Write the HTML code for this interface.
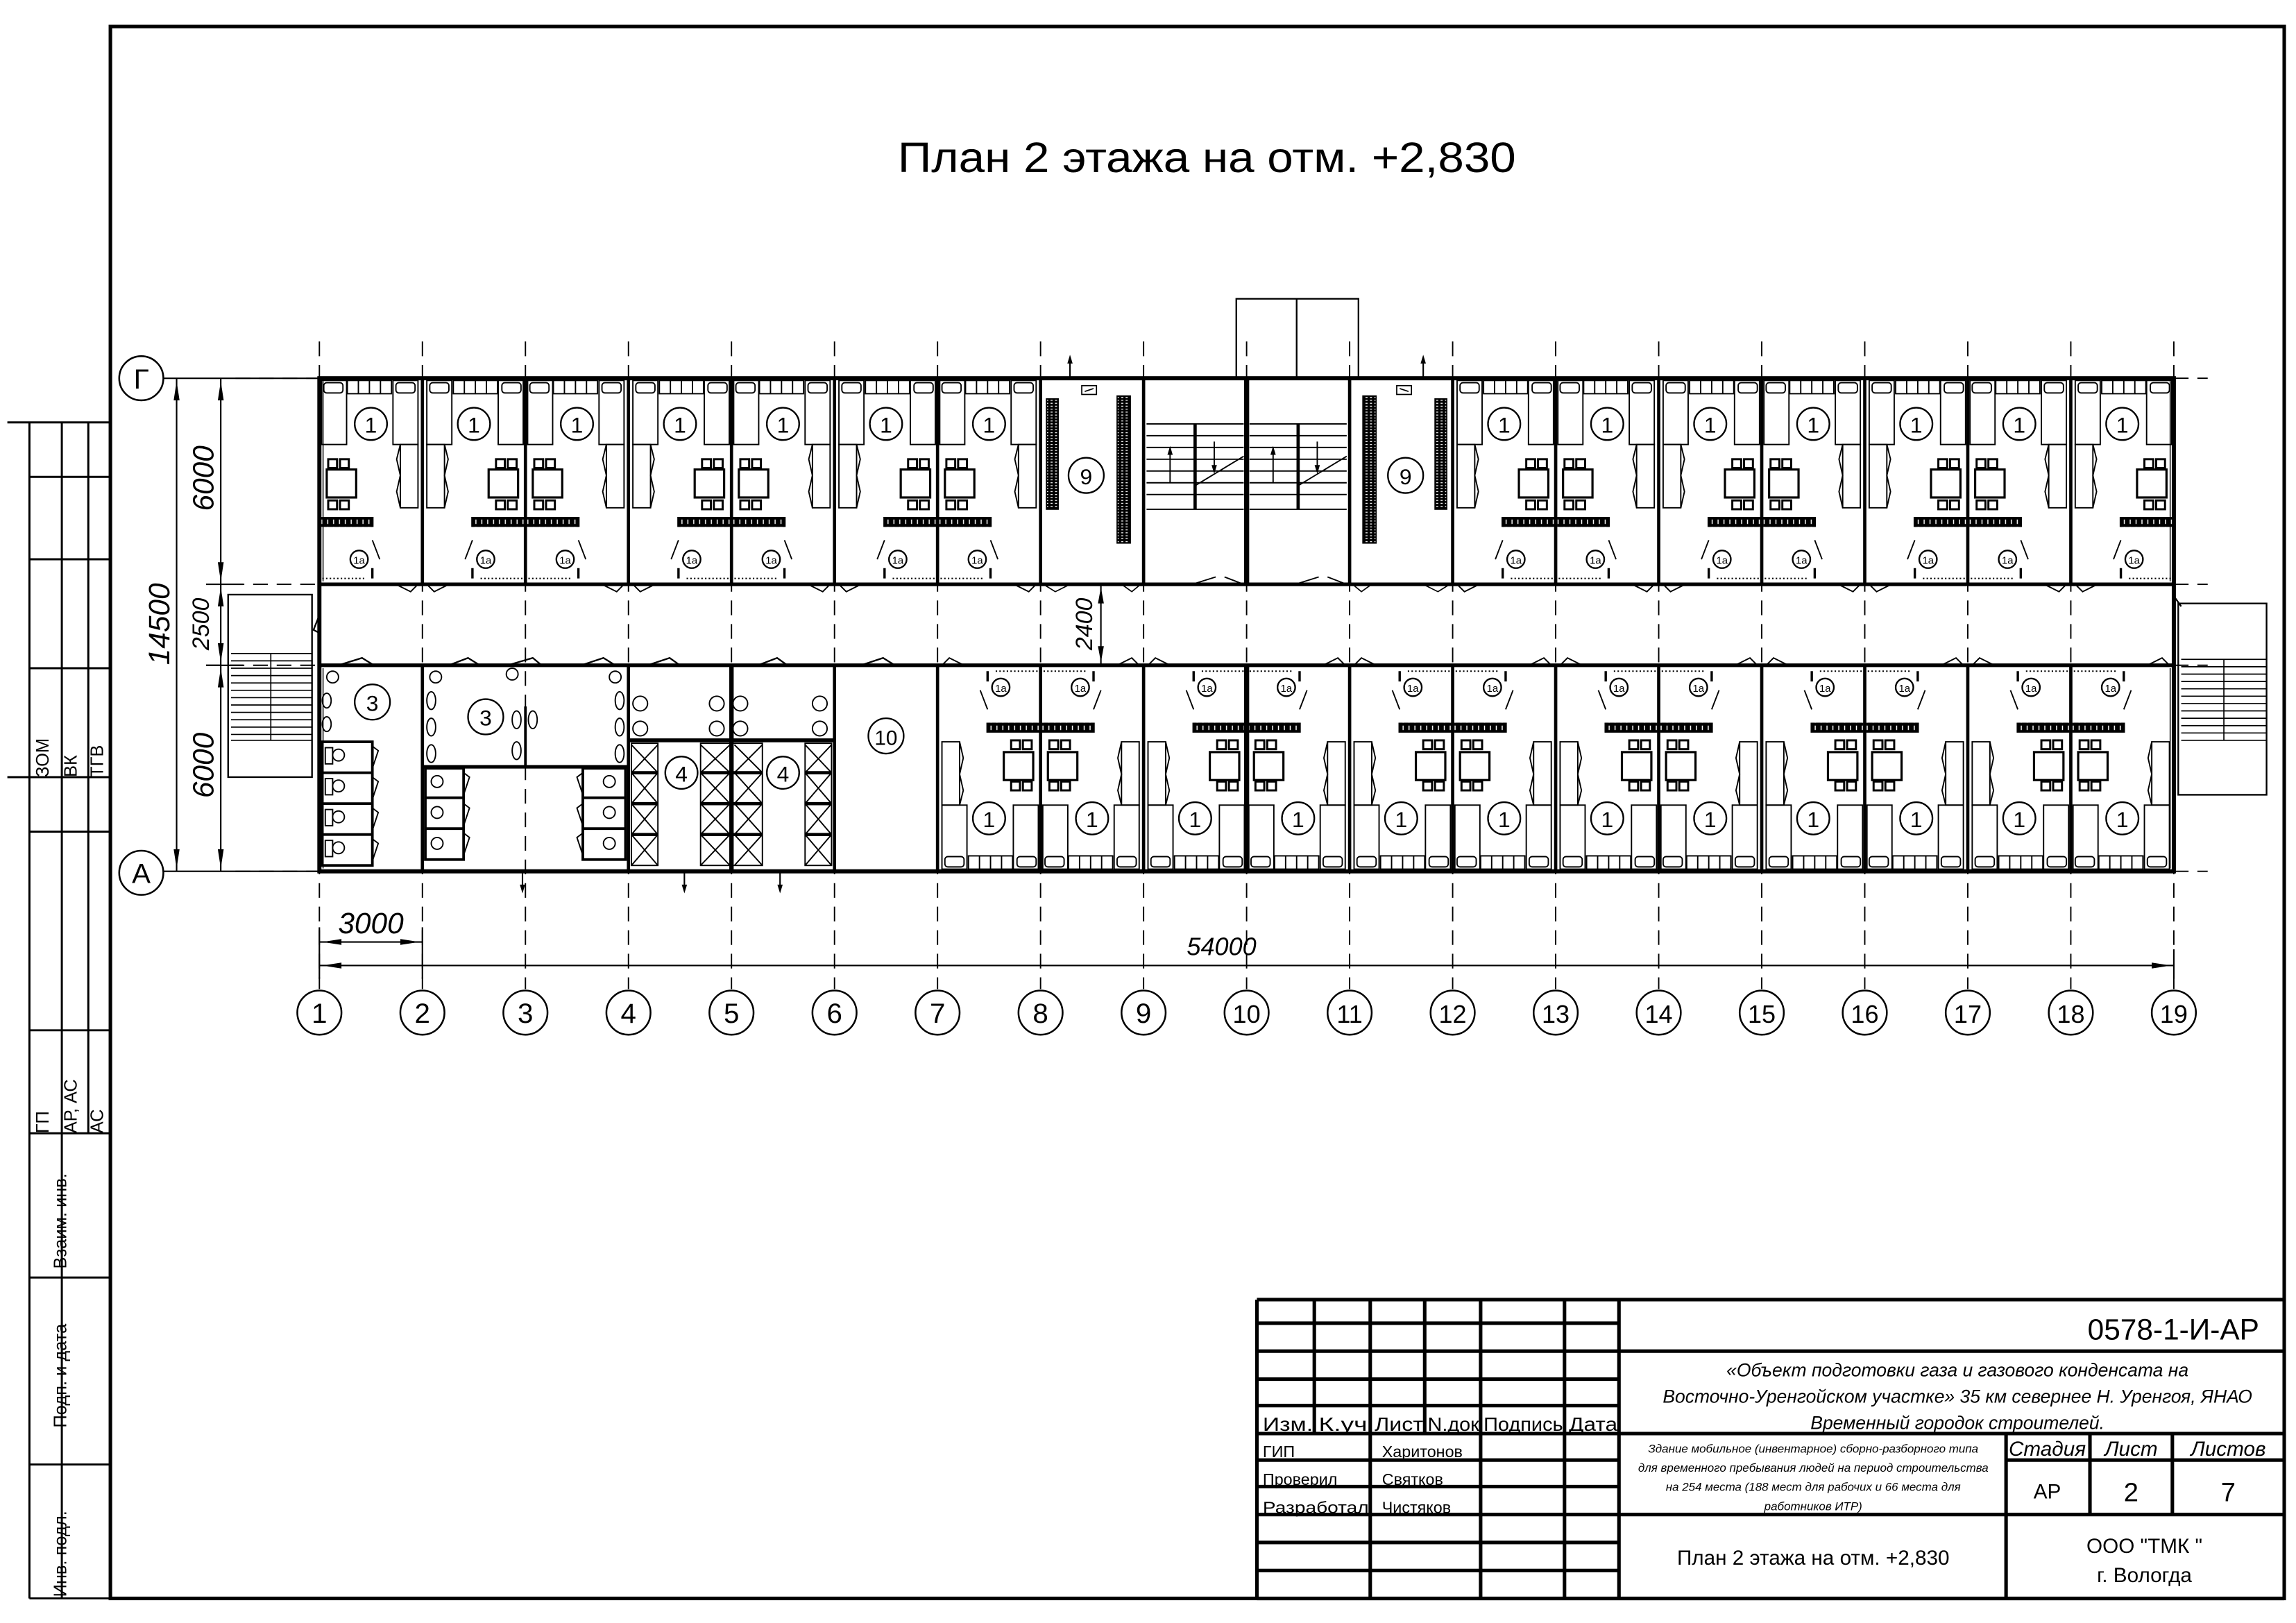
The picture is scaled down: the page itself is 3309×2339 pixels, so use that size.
<!DOCTYPE html>
<html><head><meta charset="utf-8"><style>
html,body{margin:0;padding:0;background:#fff}
svg{display:block}
text{font-family:"Liberation Sans Narrow","Liberation Sans","DejaVu Sans",sans-serif;fill:#000}
</style></head><body>
<svg width="3309" height="2339" viewBox="0 0 1560 1102.7" preserveAspectRatio="none" xmlns="http://www.w3.org/2000/svg" xmlns:xlink="http://www.w3.org/1999/xlink">
<defs>
<pattern id="rk" width="3" height="2" patternUnits="userSpaceOnUse"><rect width="3" height="2" fill="#000"/><rect x="0.8" y="0.7" width="1.4" height="0.6" fill="#fff"/></pattern>
<pattern id="st" width="4" height="5" patternUnits="userSpaceOnUse"><rect width="4" height="5" fill="#000"/><rect x="1.3" y="1" width="0.7" height="3" fill="#fff"/></pattern>
<g id="rt" fill="none" stroke="#000" stroke-width="0.9">
 <rect x="1.5" y="1.5" width="17" height="43.5"/><rect x="3" y="3" width="13" height="7" rx="2"/>
 <rect x="50" y="1.5" width="17" height="43.5"/><rect x="52" y="3" width="13" height="7" rx="2"/>
 <rect x="19" y="1.5" width="30" height="9"/><path d="M26.5 1.5V10.5M34 1.5V10.5M41.5 1.5V10.5"/>
 <rect x="5" y="62" width="20" height="19" stroke-width="1.5"/>
 <rect x="6" y="55" width="6" height="6" stroke-width="1.4"/><rect x="14" y="55" width="6" height="6" stroke-width="1.4"/>
 <rect x="6" y="83" width="6" height="6" stroke-width="1.4"/><rect x="14" y="83" width="6" height="6" stroke-width="1.4"/>
 <rect x="55" y="45" width="12" height="43"/><polyline points="55,45 52.5,55 55,66 52.5,77 55,88"/>
 <path d="M1 95H36V101M36 129V136" stroke-width="1.6"/>
 <rect x="1" y="95" width="35" height="6" fill="url(#st)" stroke="none"/>
 <path d="M36 110L41 123"/>
 <path d="M2 136H32" stroke-dasharray="1 1.5"/>
 <path d="M52 140L62 145L67 140"/>
</g>
<g id="r9" fill="none" stroke="#000" stroke-width="0.8">
 <rect x="4" y="14" width="8" height="75" fill="url(#rk)"/>
 <rect x="52" y="12" width="9" height="100" fill="url(#rk)"/>
 <rect x="28" y="5" width="10" height="6"/><path d="M30 9L36 7"/>
 <path d="M2 140L10 145L20 140M55 140L62 145L68 140"/>
</g>
<g id="arU"><path d="M0 0L-1.8 6H1.8Z" fill="#000"/></g>
</defs>

<g fill="none" stroke="#000">
<path d="M75 18H1552V1086H75Z" stroke-width="2.4"/>
<g stroke-width="1.4">
<path d="M5 287H75M5 528H75M20 287V1086M42 287V1086M60 287V770M20 324H75M20 380H75M20 454H75M20 565H75M20 700H75M20 770H75M20 868H75M20 995H75M20 1086H75"/>
</g>
</g>
<g font-size="12">
<text transform="translate(33,528) rotate(-90)">ЗОМ</text>
<text transform="translate(52,528) rotate(-90)">ВК</text>
<text transform="translate(70,528) rotate(-90)">ТГВ</text>
<text transform="translate(33,770) rotate(-90)">ГП</text>
<text transform="translate(52,770) rotate(-90)">АР, АС</text>
<text transform="translate(70,770) rotate(-90)">АС</text>
<text transform="translate(45,862) rotate(-90)">Взаим. инв.</text>
<text transform="translate(45,970) rotate(-90)">Подп. и дата</text>
<text transform="translate(45,1085) rotate(-90)">Инв.  подл.</text>
</g>

<text x="610" y="117" font-size="29" textLength="420" lengthAdjust="spacingAndGlyphs">План 2 этажа на отм. +2,830</text>

<g stroke="#000" stroke-width="0.9" stroke-dasharray="10 6" fill="none">
<path d="M217 232V672M287 232V672M357 232V672M427 232V672M497 232V672M567 232V672M637 232V672M707 232V672M777 232V672M847 232V672M917 232V672M987 232V672M1057 232V672M1127 232V672M1197 232V672M1267 232V672M1337 232V672M1407 232V672M1477 232V672"/>
<path d="M160 257H217M1477 257H1500M160 592H217M1477 592H1500M140 397H217M140 452H217M1477 397H1500M1477 452H1500"/>
</g>

<g fill="none" stroke="#000" stroke-width="1.1">
<rect x="840" y="203" width="83" height="54"/><path d="M881 203V257"/>
<rect x="155" y="404" width="57" height="124"/>
<rect x="1480" y="410" width="60" height="130"/>
</g>
<g stroke="#000" stroke-width="0.8">
<path d="M157 444H212M157 449H212M157 454H212M157 459H212M157 464H212M157 469H212M157 474H212M157 479H212M157 484H212M157 489H212M157 494H212M157 499H212M157 503H212M184 444V503"/>
<path d="M1482 448H1540M1482 453H1540M1482 458H1540M1482 463H1540M1482 468H1540M1482 473H1540M1482 478H1540M1482 483H1540M1482 488H1540M1482 493H1540M1482 498H1540M1482 503H1540M1511 448V503"/>
</g>

<use href="#rt" transform="translate(217,257)"/>
<use href="#rt" transform="translate(357,257) scale(-1,1)"/>
<use href="#rt" transform="translate(357,257)"/>
<use href="#rt" transform="translate(497,257) scale(-1,1)"/>
<use href="#rt" transform="translate(497,257)"/>
<use href="#rt" transform="translate(637,257) scale(-1,1)"/>
<use href="#rt" transform="translate(637,257)"/>
<use href="#rt" transform="translate(1057,257) scale(-1,1)"/>
<use href="#rt" transform="translate(1057,257)"/>
<use href="#rt" transform="translate(1197,257) scale(-1,1)"/>
<use href="#rt" transform="translate(1197,257)"/>
<use href="#rt" transform="translate(1337,257) scale(-1,1)"/>
<use href="#rt" transform="translate(1337,257)"/>
<use href="#rt" transform="translate(1477,257) scale(-1,1)"/>
<use href="#rt" transform="translate(707,592) scale(-1,-1)"/>
<use href="#rt" transform="translate(707,592) scale(1,-1)"/>
<use href="#rt" transform="translate(847,592) scale(-1,-1)"/>
<use href="#rt" transform="translate(847,592) scale(1,-1)"/>
<use href="#rt" transform="translate(987,592) scale(-1,-1)"/>
<use href="#rt" transform="translate(987,592) scale(1,-1)"/>
<use href="#rt" transform="translate(1127,592) scale(-1,-1)"/>
<use href="#rt" transform="translate(1127,592) scale(1,-1)"/>
<use href="#rt" transform="translate(1267,592) scale(-1,-1)"/>
<use href="#rt" transform="translate(1267,592) scale(1,-1)"/>
<use href="#rt" transform="translate(1407,592) scale(-1,-1)"/>
<use href="#rt" transform="translate(1407,592) scale(1,-1)"/>
<use href="#r9" transform="translate(707,257)"/>
<use href="#r9" transform="translate(987,257) scale(-1,1)"/>

<g stroke="#000" fill="none" stroke-width="0.9">
<path d="M779 288H845M779 296H845M779 304H845M779 312H845M779 320H845M779 328H845M779 336H845M779 346H845"/>
<path d="M849 288H915M849 296H915M849 304H915M849 312H915M849 320H915M849 328H915M849 336H915M849 346H915"/>
<path d="M812 288V346M882 288V346" stroke-width="2.2"/>
<path d="M795 328V305M865 328V305M812 330L845 310M882 330L915 310M825 300V320M895 300V320"/>
<path d="M810 397L826 392M832 392L845 397M880 397L896 392M902 392L915 397"/>
</g>
<use href="#arU" transform="translate(795,303)"/><use href="#arU" transform="translate(865,303)"/>
<use href="#arU" transform="translate(825,322) rotate(180)"/><use href="#arU" transform="translate(895,322) rotate(180)"/>

<g fill="none" stroke="#000" stroke-width="0.9">
 <circle cx="226" cy="460" r="4"/><ellipse cx="222" cy="476" rx="3" ry="5"/><ellipse cx="222" cy="492" rx="3" ry="5"/>
 <rect x="219" y="504" width="34" height="84" stroke-width="1.8"/>
 <path d="M219 525H253M219 546H253M219 567H253" stroke-width="1.8"/>
 <rect x="221" y="508" width="5" height="11"/><circle cx="230" cy="513" r="4"/>
 <rect x="221" y="529" width="5" height="11"/><circle cx="230" cy="534" r="4"/>
 <rect x="221" y="550" width="5" height="11"/><circle cx="230" cy="555" r="4"/>
 <rect x="221" y="571" width="5" height="11"/><circle cx="230" cy="576" r="4"/>
 <path d="M253 507L257 510L253 522M253 528L257 531L253 543M253 549L257 552L253 564M253 570L257 573L253 585"/>
 <circle cx="296" cy="460" r="4"/><circle cx="348" cy="458" r="4"/><circle cx="418" cy="460" r="4"/>
 <ellipse cx="293" cy="476" rx="3" ry="6"/><ellipse cx="293" cy="494" rx="3" ry="6"/><ellipse cx="293" cy="512" rx="3" ry="6"/>
 <ellipse cx="421" cy="476" rx="3" ry="6"/><ellipse cx="421" cy="494" rx="3" ry="6"/><ellipse cx="421" cy="512" rx="3" ry="6"/>
 <ellipse cx="351" cy="489" rx="3" ry="6"/><ellipse cx="362" cy="489" rx="3" ry="6"/><ellipse cx="351" cy="510" rx="3" ry="6"/>
 <path d="M357 480V522" stroke-width="1.8"/>
 <path d="M287 521H427" stroke-width="2.4"/>
 <rect x="289" y="522" width="26" height="62" stroke-width="1.8"/><path d="M289 542H315M289 563H315" stroke-width="1.8"/>
 <rect x="396" y="522" width="29" height="62" stroke-width="1.8"/><path d="M396 542H425M396 563H425" stroke-width="1.8"/>
 <circle cx="297" cy="531" r="4"/><circle cx="297" cy="552" r="4"/><circle cx="297" cy="573" r="4"/>
 <circle cx="414" cy="531" r="4"/><circle cx="414" cy="552" r="4"/><circle cx="414" cy="573" r="4"/>
 <path d="M315 525L319 528L315 540M315 546L319 549L315 561M315 566L319 569L315 581M396 525L392 528L396 540M396 546L392 549L396 561M396 566L392 569L396 581"/>
 <circle cx="435" cy="478" r="5"/><circle cx="435" cy="495" r="5"/>
 <circle cx="487" cy="478" r="5"/><circle cx="487" cy="495" r="5"/>
 <circle cx="503" cy="478" r="5"/><circle cx="503" cy="495" r="5"/>
 <circle cx="557" cy="478" r="5"/><circle cx="557" cy="495" r="5"/>
 <path d="M427 503H567" stroke-width="2.6"/>
 <rect x="429" y="505" width="18" height="83"/><rect x="476" y="505" width="42" height="83"/><rect x="547" y="505" width="18" height="83"/>
 <path d="M429 525H447M429 546H447M429 567H447M476 525H518M476 546H518M476 567H518M547 525H565M547 546H565M547 567H565" stroke-width="2.2"/>
 <path d="M429 506L447 525M429 525L447 546M429 546L447 567M429 567L447 588M447 506L429 525M447 525L429 546M447 546L429 567M447 567L429 588"/>
 <path d="M476 506L496 525M476 525L496 546M476 546L496 567M476 567L496 588M496 506L476 525M496 525L476 546M496 546L476 567M496 567L476 588"/>
 <path d="M499 506L518 525M499 525L518 546M499 546L518 567M499 567L518 588M518 506L499 525M518 525L499 546M518 546L499 567M518 567L499 588"/>
 <path d="M547 506L565 525M547 525L565 546M547 546L565 567M547 567L565 588M565 506L547 525M565 525L547 546M565 546L547 567M565 567L547 588"/>
 <path d="M497 452V592" stroke-width="3"/>
</g>

<g fill="none" stroke="#000">
<rect x="217" y="257" width="1260" height="335" stroke-width="2.8"/>
<path d="M217 397H1477M217 452H1477" stroke-width="2.5"/>
<path d="M287 257V397M357 257V397M427 257V397M497 257V397M567 257V397M637 257V397M707 257V397M777 257V397M917 257V397M987 257V397M1057 257V397M1127 257V397M1197 257V397M1267 257V397M1337 257V397M1407 257V397" stroke-width="2.2"/>
<path d="M287 452V592M427 452V592M567 452V592M637 452V592M707 452V592M777 452V592M917 452V592M987 452V592M1057 452V592M1127 452V592M1197 452V592M1267 452V592M1337 452V592M1407 452V592" stroke-width="2.2"/>
<path d="M847 257V397M847 452V592" stroke-width="3.5"/>
<path d="M219.5 259V395M219.5 454V590M1474.5 259V395M1474.5 454V590" stroke-width="0.7"/>
<path d="M230 452L246 447L254 452M305 452L318 447L326 452M345 452L362 447L368 452M395 452L410 447L418 452M440 452L455 447L462 452M515 452L528 447L535 452M585 452L600 447L608 452M217 418L213 428L217 430M1477 405L1482 412" stroke-width="1.1"/>
</g>
<g stroke="#000" stroke-width="1">
<path d="M727 257V243M967 257V243M355 592V604M465 592V604M530 592V604"/>
</g>
<use href="#arU" transform="translate(727,241)"/><use href="#arU" transform="translate(967,241)"/>
<use href="#arU" transform="translate(355,607) rotate(180)"/><use href="#arU" transform="translate(465,607) rotate(180)"/><use href="#arU" transform="translate(530,607) rotate(180)"/>

<g fill="#fff" stroke="#000" stroke-width="1.1">
<circle cx="252" cy="288" r="11"/><circle cx="322" cy="288" r="11"/><circle cx="392" cy="288" r="11"/><circle cx="462" cy="288" r="11"/><circle cx="532" cy="288" r="11"/><circle cx="602" cy="288" r="11"/><circle cx="672" cy="288" r="11"/>
<circle cx="1022" cy="288" r="11"/><circle cx="1092" cy="288" r="11"/><circle cx="1162" cy="288" r="11"/><circle cx="1232" cy="288" r="11"/><circle cx="1302" cy="288" r="11"/><circle cx="1372" cy="288" r="11"/><circle cx="1442" cy="288" r="11"/>
<circle cx="672" cy="556" r="11"/><circle cx="742" cy="556" r="11"/><circle cx="812" cy="556" r="11"/><circle cx="882" cy="556" r="11"/><circle cx="952" cy="556" r="11"/><circle cx="1022" cy="556" r="11"/><circle cx="1092" cy="556" r="11"/><circle cx="1162" cy="556" r="11"/><circle cx="1232" cy="556" r="11"/><circle cx="1302" cy="556" r="11"/><circle cx="1372" cy="556" r="11"/><circle cx="1442" cy="556" r="11"/>
<circle cx="244" cy="380" r="6"/><circle cx="330" cy="380" r="6"/><circle cx="384" cy="380" r="6"/><circle cx="470" cy="380" r="6"/><circle cx="524" cy="380" r="6"/><circle cx="610" cy="380" r="6"/><circle cx="664" cy="380" r="6"/>
<circle cx="1030" cy="380" r="6"/><circle cx="1084" cy="380" r="6"/><circle cx="1170" cy="380" r="6"/><circle cx="1224" cy="380" r="6"/><circle cx="1310" cy="380" r="6"/><circle cx="1364" cy="380" r="6"/><circle cx="1450" cy="380" r="6"/>
<circle cx="680" cy="467" r="6"/><circle cx="734" cy="467" r="6"/><circle cx="820" cy="467" r="6"/><circle cx="874" cy="467" r="6"/><circle cx="960" cy="467" r="6"/><circle cx="1014" cy="467" r="6"/><circle cx="1100" cy="467" r="6"/><circle cx="1154" cy="467" r="6"/><circle cx="1240" cy="467" r="6"/><circle cx="1294" cy="467" r="6"/><circle cx="1380" cy="467" r="6"/><circle cx="1434" cy="467" r="6"/>
<circle cx="738" cy="323" r="12"/><circle cx="955" cy="323" r="12"/>
<circle cx="253" cy="477" r="12"/><circle cx="330" cy="487" r="12"/><circle cx="463" cy="525" r="11"/><circle cx="532" cy="525" r="11"/><circle cx="602" cy="500" r="12"/>
</g>
<g font-size="15" text-anchor="middle">
<text x="252" y="294">1</text><text x="322" y="294">1</text><text x="392" y="294">1</text><text x="462" y="294">1</text><text x="532" y="294">1</text><text x="602" y="294">1</text><text x="672" y="294">1</text>
<text x="1022" y="294">1</text><text x="1092" y="294">1</text><text x="1162" y="294">1</text><text x="1232" y="294">1</text><text x="1302" y="294">1</text><text x="1372" y="294">1</text><text x="1442" y="294">1</text>
<text x="672" y="562">1</text><text x="742" y="562">1</text><text x="812" y="562">1</text><text x="882" y="562">1</text><text x="952" y="562">1</text><text x="1022" y="562">1</text><text x="1092" y="562">1</text><text x="1162" y="562">1</text><text x="1232" y="562">1</text><text x="1302" y="562">1</text><text x="1372" y="562">1</text><text x="1442" y="562">1</text>
<text x="738" y="329">9</text><text x="955" y="329">9</text>
<text x="253" y="483">3</text><text x="330" y="493">3</text><text x="463" y="531">4</text><text x="532" y="531">4</text><text x="602" y="506" font-size="14">10</text>
</g>
<g font-size="7" text-anchor="middle">
<text x="244" y="383">1а</text><text x="330" y="383">1а</text><text x="384" y="383">1а</text><text x="470" y="383">1а</text><text x="524" y="383">1а</text><text x="610" y="383">1а</text><text x="664" y="383">1а</text>
<text x="1030" y="383">1а</text><text x="1084" y="383">1а</text><text x="1170" y="383">1а</text><text x="1224" y="383">1а</text><text x="1310" y="383">1а</text><text x="1364" y="383">1а</text><text x="1450" y="383">1а</text>
<text x="680" y="470">1а</text><text x="734" y="470">1а</text><text x="820" y="470">1а</text><text x="874" y="470">1а</text><text x="960" y="470">1а</text><text x="1014" y="470">1а</text><text x="1100" y="470">1а</text><text x="1154" y="470">1а</text><text x="1240" y="470">1а</text><text x="1294" y="470">1а</text><text x="1380" y="470">1а</text><text x="1434" y="470">1а</text>
</g>

<g stroke="#000" stroke-width="1" fill="none">
<path d="M110 257H217M110 592H217M140 397H165M140 452H165"/>
<path d="M120 257V592M150 257V592"/>
<path d="M217 630V665M287 630V665M1477 645V665M217 656H1477M217 640H287"/>
<path d="M748 397V452"/>
</g>
<g fill="#000">
<path d="M120 259L118 272H122Z"/><path d="M120 590L118 577H122Z"/>
<path d="M150 259L148 272H152Z"/><path d="M150 395L148 382H152Z"/><path d="M150 399L148 412H152Z"/><path d="M150 450L148 437H152Z"/><path d="M150 454L148 467H152Z"/><path d="M150 590L148 577H152Z"/>
<path d="M219 656L232 654V658Z"/><path d="M1475 656L1462 654V658Z"/>
<path d="M219 640L232 638V642Z"/><path d="M285 640L272 638V642Z"/>
<path d="M748 399L746 410H750Z"/><path d="M748 450L746 439H750Z"/>
</g>
<g font-size="20" font-style="italic" text-anchor="middle">
<text transform="translate(115,424) rotate(-90)">14500</text>
<text transform="translate(145,325) rotate(-90)">6000</text>
<text transform="translate(142,424) rotate(-90)" font-size="16">2500</text>
<text transform="translate(145,520) rotate(-90)">6000</text>
<text transform="translate(742,424) rotate(-90)" font-size="16">2400</text>
<text x="252" y="634">3000</text>
<text x="830" y="649" font-size="17">54000</text>
</g>

<g fill="#fff" stroke="#000" stroke-width="1.2">
<circle cx="96" cy="257" r="15"/><circle cx="96" cy="593" r="15"/>
<circle cx="217" cy="688" r="15"/><circle cx="287" cy="688" r="15"/><circle cx="357" cy="688" r="15"/><circle cx="427" cy="688" r="15"/><circle cx="497" cy="688" r="15"/><circle cx="567" cy="688" r="15"/><circle cx="637" cy="688" r="15"/><circle cx="707" cy="688" r="15"/><circle cx="777" cy="688" r="15"/><circle cx="847" cy="688" r="15"/><circle cx="917" cy="688" r="15"/><circle cx="987" cy="688" r="15"/><circle cx="1057" cy="688" r="15"/><circle cx="1127" cy="688" r="15"/><circle cx="1197" cy="688" r="15"/><circle cx="1267" cy="688" r="15"/><circle cx="1337" cy="688" r="15"/><circle cx="1407" cy="688" r="15"/><circle cx="1477" cy="688" r="15"/>
</g>
<g font-size="19" text-anchor="middle">
<text x="96" y="264">Г</text><text x="96" y="600">А</text>
<text x="217" y="695">1</text><text x="287" y="695">2</text><text x="357" y="695">3</text><text x="427" y="695">4</text><text x="497" y="695">5</text><text x="567" y="695">6</text><text x="637" y="695">7</text><text x="707" y="695">8</text><text x="777" y="695">9</text><text x="847" y="695" font-size="17">10</text><text x="917" y="695" font-size="17">11</text><text x="987" y="695" font-size="17">12</text><text x="1057" y="695" font-size="17">13</text><text x="1127" y="695" font-size="17">14</text><text x="1197" y="695" font-size="17">15</text><text x="1267" y="695" font-size="17">16</text><text x="1337" y="695" font-size="17">17</text><text x="1407" y="695" font-size="17">18</text><text x="1477" y="695" font-size="17">19</text>
</g>

<g fill="none" stroke="#000" stroke-width="2.4">
<path d="M854 883H1552M854 883V1086M1100 883V1086M854 1086H1552"/>
<path d="M854 899H1100M854 918H1552M854 937H1100M854 955H1100M854 974H1552M854 992H1100M854 1010H1100M854 1029H1552M854 1048H1100M854 1067H1100M1363 992H1552"/>
<path d="M893 883V974M968 883V974M931 883V1086M1006 883V1086M1063 883V1086M1363 974V1086M1420 974V1029M1476 974V1029"/>
</g>
<text x="1535" y="910" font-size="20" text-anchor="end">0578-1-И-АР</text>
<g font-size="12.5" text-anchor="middle" font-style="italic">
<text x="1330" y="935">«Объект подготовки газа и газового конденсата на</text>
<text x="1330" y="953">Восточно-Уренгойском участке» 35 км севернее Н. Уренгоя, ЯНАО</text>
<text x="1330" y="971">Временный городок строителей.</text>
</g>
<g font-size="13">
<text x="858" y="972" textLength="34" lengthAdjust="spacingAndGlyphs">Изм.</text>
<text x="896" y="972" textLength="33" lengthAdjust="spacingAndGlyphs">К.уч</text>
<text x="934" y="972" textLength="33" lengthAdjust="spacingAndGlyphs">Лист</text>
<text x="970" y="972" textLength="35" lengthAdjust="spacingAndGlyphs">N.док</text>
<text x="1008" y="972" textLength="54" lengthAdjust="spacingAndGlyphs">Подпись</text>
<text x="1066" y="972" textLength="33" lengthAdjust="spacingAndGlyphs">Дата</text>
</g>
<g font-size="11">
<text x="858" y="990">ГИП</text><text x="858" y="1009">Проверил</text><text x="858" y="1028" textLength="72" lengthAdjust="spacingAndGlyphs">Разработал</text>
<text x="939" y="990">Харитонов</text><text x="939" y="1009">Святков</text><text x="939" y="1028">Чистяков</text>
</g>
<g font-size="8" text-anchor="middle" font-style="italic">
<text x="1232" y="987">Здание мобильное (инвентарное) сборно-разборного типа</text>
<text x="1232" y="1000">для временного пребывания людей на период строительства</text>
<text x="1232" y="1013">на 254 места (188 мест для рабочих и 66 места для</text>
<text x="1232" y="1026">работников ИТР)</text>
</g>
<g font-size="14" text-anchor="middle">
<text x="1391" y="989" font-style="italic">Стадия</text><text x="1448" y="989" font-style="italic">Лист</text><text x="1514" y="989" font-style="italic">Листов</text>
<text x="1391" y="1018">АР</text><text x="1448" y="1020" font-size="18">2</text><text x="1514" y="1020" font-size="18">7</text>
<text x="1232" y="1063">План 2 этажа на отм. +2,830</text>
<text x="1457" y="1055">ООО "ТМК "</text>
<text x="1457" y="1075">г. Вологда</text>
</g>
</svg>
</body></html>
